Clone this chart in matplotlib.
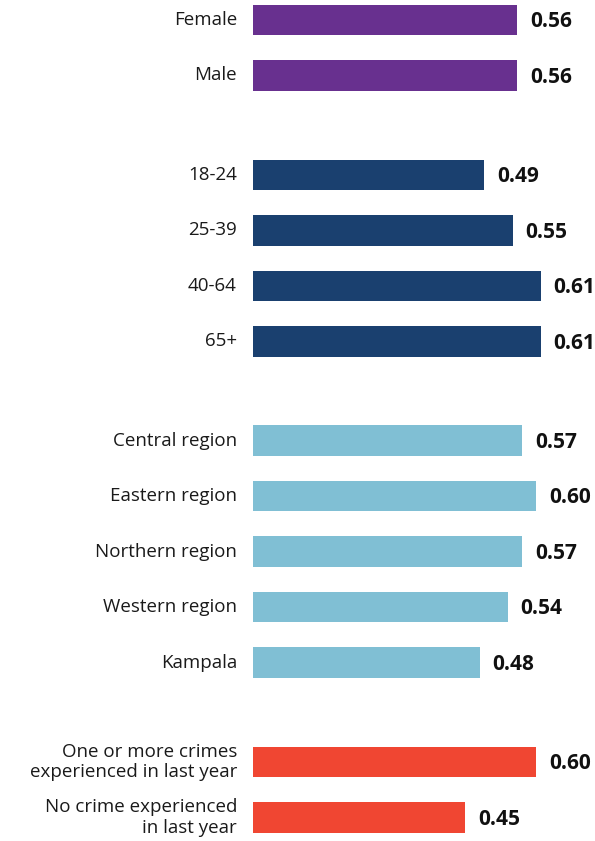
import numpy as np
import matplotlib.pyplot as plt

plt.rcParams['font.family'] = ['Open Sans', 'DejaVu Sans']

# groups of categories and their mean scores
sex_labels = ['Female', 'Male']
sex_values = [0.56, 0.56]
age_labels = ['18-24', '25-39', '40-64', '65+']
age_values = [0.49, 0.55, 0.61, 0.61]
region_labels = ['Central region', 'Eastern region', 'Northern region', 'Western region', 'Kampala']
region_values = [0.57, 0.60, 0.57, 0.54, 0.48]
crime_labels = ['One or more crimes\nexperienced in last year', 'No crime experienced\nin last year']
crime_values = [0.60, 0.45]

groups = [
    (sex_labels, sex_values, '#68308f'),
    (age_labels, age_values, '#1a406f'),
    (region_labels, region_values, '#80bfd4'),
    (crime_labels, crime_values, '#f04632'),
]

fig = plt.figure(figsize=(5.95, 8.41), dpi=100)
ax = fig.add_axes([253 / 595, 0, 1 - 253 / 595, 1])

pos = 0.0
gap = 0.79
for labels, values, color in groups:
    ys = pos + np.arange(len(values))
    ax.barh(ys, values, height=0.55, color=color)
    for y, lab, v in zip(ys, labels, values):
        ax.text(-0.034, y, lab, ha='right', va='center', fontsize=13.5,
                color='#1a1a1a', linespacing=1.2)
        ax.text(v + 0.027, y + 0.03, f'{v:.2f}', ha='left', va='center',
                fontsize=15, fontweight='bold', color='#111111')
    pos = ys[-1] + 1 + gap

ax.set_xlim(0, 342 / 472)
ax.set_ylim(821 / 55.5, -20 / 55.5)
ax.axis('off')

fig.savefig('out.png', dpi=100)
